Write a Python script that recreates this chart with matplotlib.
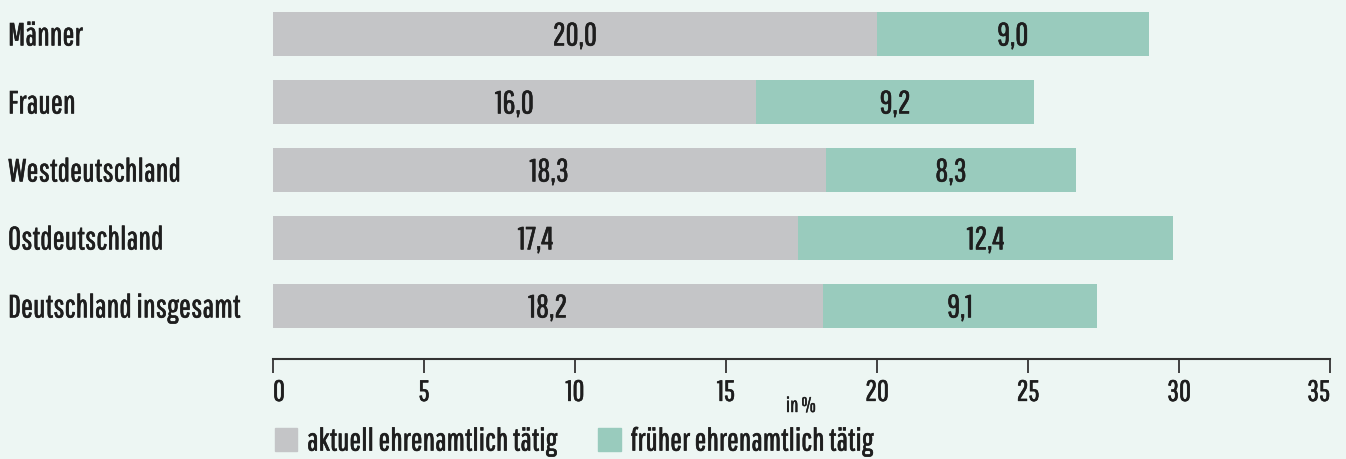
import matplotlib.pyplot as plt
from matplotlib import font_manager
from matplotlib.patches import Patch
import matplotlib.patheffects as pe
import matplotlib.transforms as mtrans

# Daten
kategorien = ['Männer', 'Frauen', 'Westdeutschland', 'Ostdeutschland', 'Deutschland insgesamt']
aktuell = [20.0, 16.0, 18.3, 17.4, 18.2]
frueher = [9.0, 9.2, 8.3, 12.4, 9.1]
xticks = [0, 5, 10, 15, 20, 25, 30, 35]

namen = {f.name for f in font_manager.fontManager.ttflist}
font = 'Pathway Gothic One' if 'Pathway Gothic One' in namen else 'DejaVu Sans'
plt.rcParams['font.family'] = [font, 'DejaVu Sans']

bg = '#edf6f3'
grau = '#c4c5c7'
gruen = '#99cbbd'
text_c = '#1e1e1e'
fett = [pe.withStroke(linewidth=0.45, foreground=text_c)]  # etwas kräftiger

fig = plt.figure(figsize=(13.46, 4.59), dpi=100, facecolor=bg)
ax = fig.add_axes([273 / 1346, 1 - 359 / 459, (1330 - 273) / 1346, 359 / 459])
ax.set_facecolor(bg)

y = list(range(len(kategorien)))
ax.barh(y, aktuell, height=0.66, color=grau)
ax.barh(y, frueher, left=aktuell, height=0.66, color=gruen)

dy = 0.035  # Text leicht nach unten
for i in y:
    ax.text(aktuell[i] / 2, i + dy, f'{aktuell[i]:.1f}'.replace('.', ','), ha='center', va='center',
            fontsize=23, color=text_c, path_effects=fett)
    ax.text(aktuell[i] + frueher[i] / 2, i + dy, f'{frueher[i]:.1f}'.replace('.', ','), ha='center',
            va='center', fontsize=23, color=text_c, path_effects=fett)

# Kategorienamen links
trans = mtrans.blended_transform_factory(fig.transFigure, ax.transData)
for i, k in enumerate(kategorien):
    ax.text(8 / 1346, i + dy, k, transform=trans, ha='left', va='center', fontsize=23,
            color=text_c, path_effects=fett)

ax.set_xlim(0, 35)
ax.set_ylim(4.78, -0.5)
ax.set_yticks([])
ax.set_xticks(xticks)
ax.set_xticklabels([str(t) for t in xticks], fontsize=21, color=text_c)
lbls = ax.get_xticklabels()
lbls[0].set_ha('left')
lbls[-1].set_ha('right')
for l in lbls:
    l.set_path_effects(fett)
ax.tick_params(axis='x', length=10, width=1.3, color='#333333', pad=5)
for s in ['top', 'left', 'right']:
    ax.spines[s].set_visible(False)
ax.spines['bottom'].set_color('#333333')
ax.spines['bottom'].set_linewidth(1.5)

fig.text(801 / 1346, 1 - 406 / 459, 'in %', ha='center', va='center', fontsize=15, color=text_c,
         path_effects=[pe.withStroke(linewidth=0.3, foreground=text_c)])

handles = [Patch(color=grau, label='aktuell ehrenamtlich tätig'),
           Patch(color=gruen, label='früher ehrenamtlich tätig')]
leg = fig.legend(handles=handles, loc='center left', bbox_to_anchor=(262 / 1346, 1 - 442 / 459),
                 ncol=2, frameon=False, fontsize=22.5, handlelength=0.72, handleheight=0.72,
                 handletextpad=0.32, columnspacing=1.3, labelcolor=text_c, borderaxespad=0)
for t in leg.get_texts():
    t.set_path_effects(fett)

fig.savefig('out.png', dpi=100, facecolor=bg)
